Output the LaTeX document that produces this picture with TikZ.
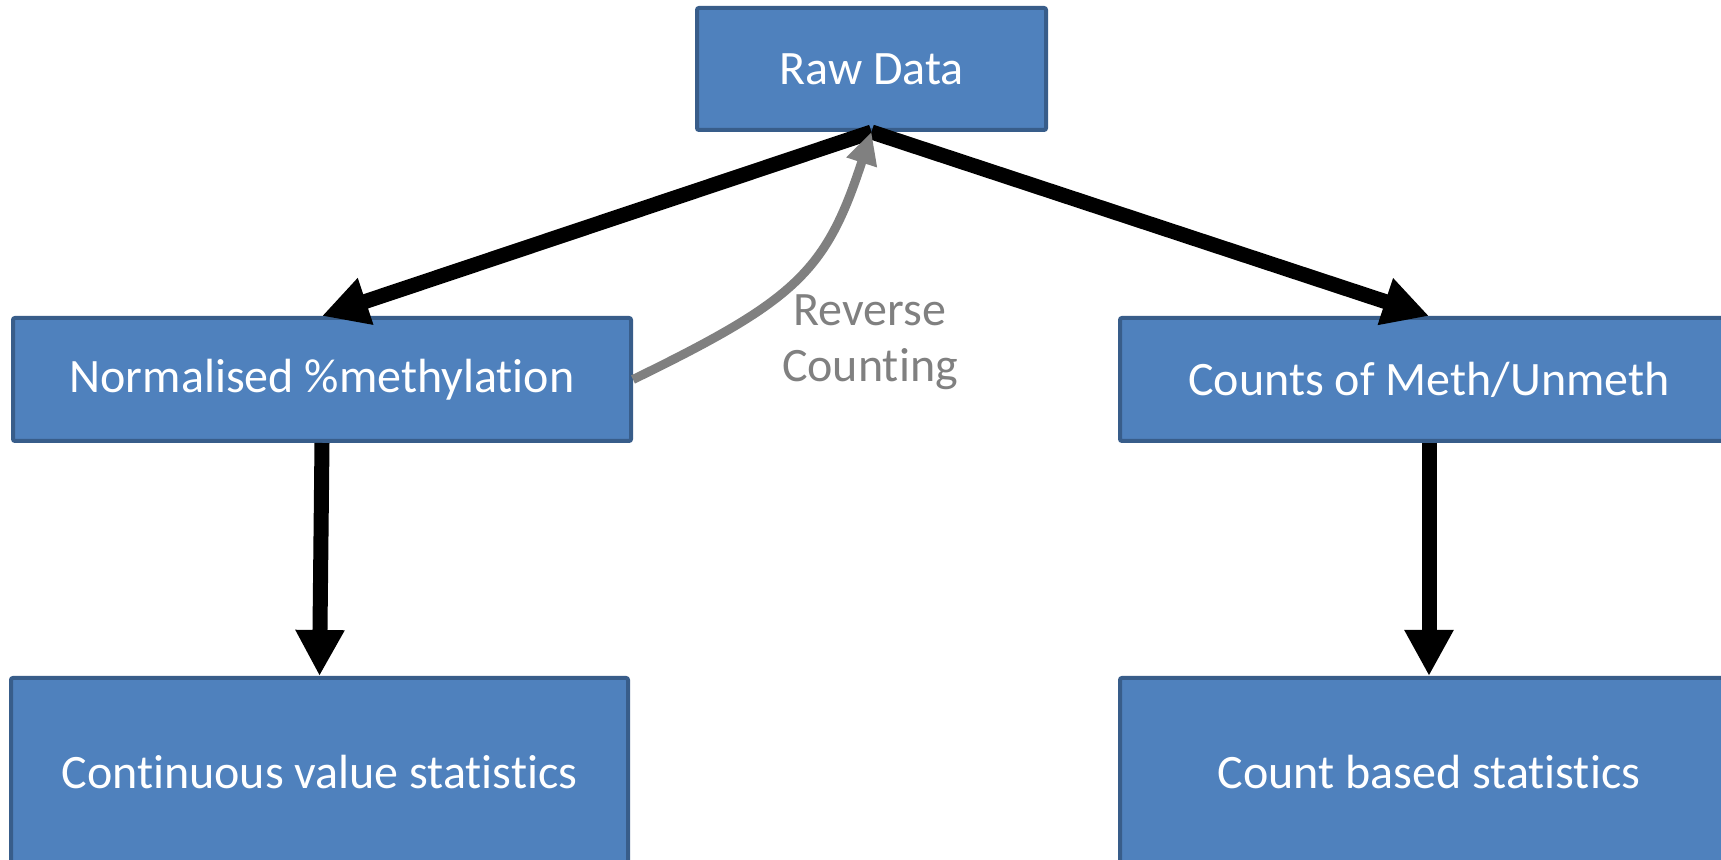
\documentclass[tikz,border=0pt]{standalone}
\usepackage{fontspec}
\setmainfont{Carlito}[Ligatures={NoCommon}]
\usetikzlibrary{arrows.meta}
\definecolor{boxfill}{HTML}{4F81BD}
\definecolor{boxline}{HTML}{385D8A}
\definecolor{revgray}{HTML}{808080}
\begin{document}
\begin{tikzpicture}[x=0.5pt,y=-0.5pt,
  box/.style={draw=boxline, line width=2pt, fill=boxfill, rounded corners=1pt,
    text=white, font=\fontsize{24}{29}\selectfont, inner sep=0pt},
  bigarrow/.style={draw=black, line width=7.5pt, -{Triangle[length=23pt,width=23pt]}},
  revarrow/.style={draw=revgray, line width=4.5pt, -{Triangle[length=16pt,width=15pt]}},
  revtext/.style={text=revgray, align=center, font=\fontsize{24}{28}\selectfont, inner sep=0pt}]
\useasboundingbox (0,0) rectangle (1721,860);
\fill[white] (0,0) rectangle (1721,860);
\node[box, minimum width=174.5pt, minimum height=61pt] (raw) at (871.5,69) {Raw Data};
\node[box, minimum width=309pt, minimum height=61.5pt] (norm) at (322,379.5) {Normalised \%methylation};
\node[box, minimum width=309pt, minimum height=61.5pt] (counts) at (1429,379.5) {Counts of Meth/Unmeth};
\node[box, minimum width=308.5pt, minimum height=94pt] (cont) at (319.5,772) {Continuous value statistics};
\node[box, minimum width=309pt, minimum height=94pt] (cstat) at (1429,772) {Count based statistics};
\node[revtext] (rev) at (870,342) {Reverse\\Counting};
\draw[bigarrow] (raw.south) -- (norm.north);
\draw[bigarrow] (raw.south) -- (counts.north);
\draw[bigarrow] (norm.south) -- (cont.north);
\draw[bigarrow] (counts.south) -- (cstat.north);
\draw[revarrow] (norm.east) .. controls (796,300) and (826,272) .. (raw.south);
\end{tikzpicture}
\end{document}
